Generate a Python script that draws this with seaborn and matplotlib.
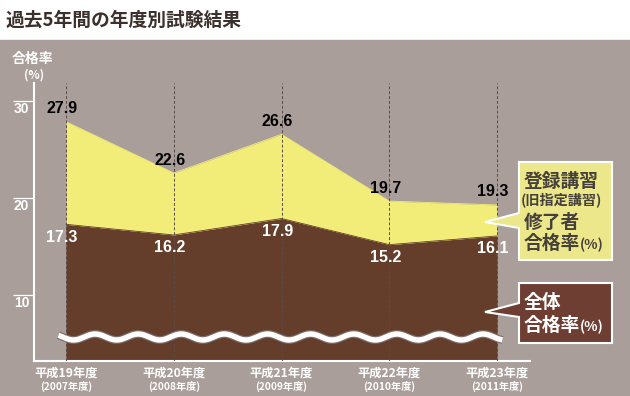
import numpy as np
import pandas as pd
import seaborn as sns
import matplotlib.pyplot as plt
from matplotlib.patches import Polygon, Rectangle
from matplotlib.transforms import Affine2D

# data
years = ['平成19年度', '平成20年度', '平成21年度', '平成22年度', '平成23年度']
years_ad = ['(2007年度)', '(2008年度)', '(2009年度)', '(2010年度)', '(2011年度)']
registered = [27.9, 22.6, 26.6, 19.7, 19.3]   # 登録講習修了者 合格率
overall = [17.3, 16.2, 17.9, 15.2, 16.1]      # 全体 合格率
yticks = [10, 20, 30]

BG = '#a99e9a'
YELLOW = '#f2ec78'
BROWN = '#653e2b'
BOX_Y = '#ece78a'
BOX_B = '#6f3e33'
DARK = '#3b302b'

sns.set_theme(style='white')
plt.rcParams['font.family'] = ['Noto Sans CJK JP', 'DejaVu Sans']
NUM = ['Liberation Sans', 'DejaVu Sans']

df = pd.DataFrame({'idx': range(len(years)), 'registered': registered, 'overall': overall})

fig = plt.figure(figsize=(6.3, 3.96), dpi=100)
fig.patch.set_facecolor('white')
# pixel -> figure transform for the decorations
pxt = Affine2D().scale(1 / 630, -1 / 396).translate(0, 1) + fig.transFigure

fig.patches.append(Rectangle((0, 40), 630, 356, transform=pxt, color=BG, zorder=-1))
fig.text(5, 20, '過去5年間の年度別試験結果', transform=pxt, fontsize=13.5,
         fontweight='bold', color=DARK, va='center', ha='left')

ax = fig.add_axes([34 / 630, 35 / 396, 496 / 630, 278 / 396])
ax.set_zorder(1)
ax.set_facecolor('none')
ymin, ymax = 3.18, 31.9
ax.set_xlim(-0.297, 4.306)
ax.set_ylim(ymin, ymax)

ax.fill_between(df['idx'], ymin, df['overall'], color=BROWN, lw=0, zorder=1)
ax.fill_between(df['idx'], df['overall'], df['registered'], color=YELLOW, lw=0, zorder=1)
sns.lineplot(data=df, x='idx', y='registered', color=YELLOW, lw=0.6, ax=ax, zorder=2)
sns.lineplot(data=df, x='idx', y='overall', color=BROWN, lw=0.6, ax=ax, zorder=2)

ax.vlines(df['idx'], ymin, ymax, colors='#5a4a46', lw=0.7, linestyles=(0, (3, 2)), zorder=3)

# wavy break mark
wx = np.linspace(-0.07, 4.05, 400)
wy = 5.66 + 0.31 * np.sin(2 * np.pi * (wx - 0.27) / 0.4 + np.pi / 2)
ax.plot(wx, wy, color='#7d6d68', lw=5.6, solid_capstyle='butt', zorder=4)
ax.plot(wx, wy, color='white', lw=3.9, solid_capstyle='butt', zorder=5)

# value labels
for i, (u, l) in enumerate(zip(registered, overall)):
    ax.annotate(f'{u}', (i, u), xytext=(-4, 13), textcoords='offset pixels',
                ha='center', va='center', fontsize=11.5, fontweight='bold',
                color='black', family=NUM, zorder=6)
    ax.annotate(f'{l}', (i, l), xytext=(-4, -13), textcoords='offset pixels',
                ha='center', va='center', fontsize=11.5, fontweight='bold',
                color='white', family=NUM, zorder=6)

# axes styling
for s in ['top', 'right']:
    ax.spines[s].set_visible(False)
for s in ['left', 'bottom']:
    ax.spines[s].set_color('white')
    ax.spines[s].set_linewidth(1.5)
ax.set_xticks([])
ax.set_yticks([])
ax.set_xlabel('')
ax.set_ylabel('')

ytr = ax.get_yaxis_transform()
ax.hlines(yticks, -0.042, 0, colors='white', lw=0.9, transform=ytr, clip_on=False)
for t in yticks:
    ax.annotate(str(t), (-0.025, t), xycoords=ytr, xytext=(0, -8), textcoords='offset pixels',
                ha='center', va='center', fontsize=10, fontweight='bold', color='white',
                family=NUM, annotation_clip=False)

xtr = ax.get_xaxis_transform()
for i, (a, b) in enumerate(zip(years, years_ad)):
    ax.annotate(a, (i, 0), xycoords=xtr, xytext=(0, -12), textcoords='offset pixels',
                ha='center', va='center', fontsize=8.8, fontweight='bold', color='white',
                annotation_clip=False)
    ax.annotate(b, (i, 0), xycoords=xtr, xytext=(0, -25), textcoords='offset pixels',
                ha='center', va='center', fontsize=7.3, fontweight='bold', color='white',
                annotation_clip=False)

fig.text(33, 59, '合格率', transform=pxt, fontsize=10, fontweight='bold', color='white',
         ha='center', va='center')
fig.text(34, 75, '(%)', transform=pxt, fontsize=8.5, fontweight='bold', color='white',
         ha='center', va='center')

# callout boxes
yb = [(519, 162), (612, 162), (612, 260), (519, 260), (519, 228), (485, 222), (519, 213)]
bb = [(519, 283), (612, 283), (612, 343), (519, 343), (519, 317), (485, 312), (519, 303)]
fig.patches.append(Polygon(yb, closed=True, transform=pxt, facecolor=BOX_Y,
                           edgecolor='white', lw=1.5, zorder=2))
fig.patches.append(Polygon(bb, closed=True, transform=pxt, facecolor=BOX_B,
                           edgecolor='white', lw=1.5, zorder=2))

TXT = '#45403a'
kw = dict(transform=pxt, fontweight='bold', va='center', zorder=3)
fig.text(524, 181, '登録講習', fontsize=13.5, color=TXT, **kw)
fig.text(521, 200, '(旧指定講習)', fontsize=10.2, color=TXT, **kw)
fig.text(524, 222, '修了者', fontsize=13.5, color=TXT, **kw)
fig.text(524, 243, '合格率', fontsize=13.5, color=TXT, **kw)
fig.text(580, 245, '(%)', fontsize=10, color=TXT, **kw)
fig.text(524, 302, '全体', fontsize=13.5, color='white', **kw)
fig.text(524, 325, '合格率', fontsize=13.5, color='white', **kw)
fig.text(580, 327, '(%)', fontsize=10, color='white', **kw)

fig.savefig('out.png', dpi=100, facecolor=fig.get_facecolor())
